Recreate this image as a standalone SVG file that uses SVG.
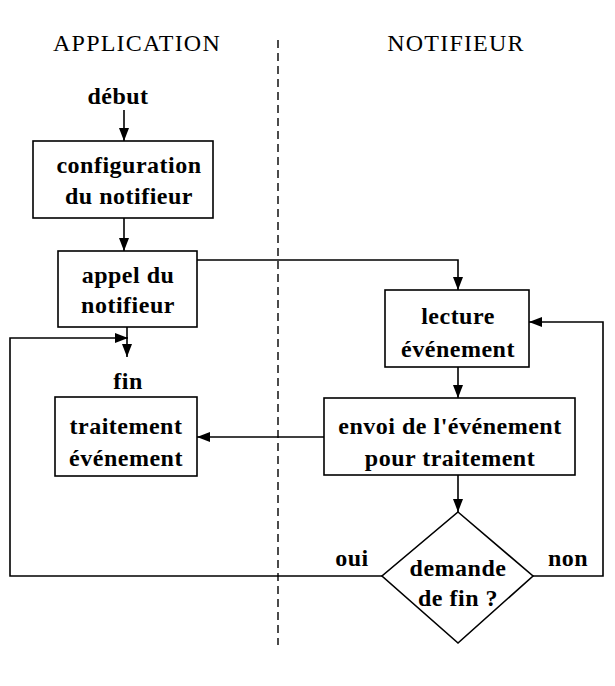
<svg xmlns="http://www.w3.org/2000/svg" width="615" height="686" viewBox="0 0 615 686">
<style>
.t{font-family:"Liberation Serif","Times New Roman",serif;font-size:24px;font-weight:bold;letter-spacing:0.5px;text-anchor:middle;fill:#000}
.h{font-family:"Liberation Serif","Times New Roman",serif;font-size:24px;letter-spacing:1.2px;text-anchor:middle;fill:#000}
.b{fill:#fff;stroke:#000;stroke-width:1.6}
.c{fill:none;stroke:#000;stroke-width:1.6}
</style>
<defs>
<marker id="a" markerUnits="userSpaceOnUse" markerWidth="14" markerHeight="12" refX="13" refY="5" orient="auto">
<path d="M0,0 L13,5 L0,10 Z" fill="#000"/>
</marker>
</defs>
<rect width="615" height="686" fill="#fff"/>
<text class="h" x="137" y="51">APPLICATION</text>
<text class="h" x="456" y="51">NOTIFIEUR</text>
<line x1="278" y1="40" x2="278" y2="645" stroke="#000" stroke-width="1.4" stroke-dasharray="8 5"/>
<g id="connectors">
<path class="c" d="M124,110 V141" marker-end="url(#a)"/>
<path class="c" d="M124,218 V251" marker-end="url(#a)"/>
<path class="c" d="M197,260 H458 V290" marker-end="url(#a)"/>
<path class="c" d="M127,327 V357" marker-end="url(#a)"/>
<path class="c" d="M382,576 H10 V338 H128" marker-end="url(#a)"/>
<path class="c" d="M458,367 V398" marker-end="url(#a)"/>
<path class="c" d="M324,437 H197" marker-end="url(#a)"/>
<path class="c" d="M458,475 V512" marker-end="url(#a)"/>
<path class="c" d="M533,576 H603 V322 H529" marker-end="url(#a)"/>
</g>
<g id="debut"><text class="t" x="118" y="104">début</text></g>
<g id="fin"><text class="t" x="128" y="389">fin</text></g>
<g id="config">
<rect class="b" x="33" y="141" width="180" height="77"/>
<text class="t" x="129" y="173">configuration</text>
<text class="t" x="129" y="204">du notifieur</text>
</g>
<g id="appel">
<rect class="b" x="58" y="251" width="139" height="76"/>
<text class="t" x="128" y="283">appel du</text>
<text class="t" x="128" y="313">notifieur</text>
</g>
<g id="traitement">
<rect class="b" x="55" y="397" width="142" height="79"/>
<text class="t" x="126" y="434">traitement</text>
<text class="t" x="126" y="466">événement</text>
</g>
<g id="lecture">
<rect class="b" x="385" y="290" width="144" height="77"/>
<text class="t" x="458" y="324">lecture</text>
<text class="t" x="458" y="357">événement</text>
</g>
<g id="envoi">
<rect class="b" x="324" y="398" width="251" height="77"/>
<text class="t" x="450" y="434">envoi de l'événement</text>
<text class="t" x="450" y="466">pour traitement</text>
</g>
<g id="demande">
<path class="b" d="M458,512 L533,576 L458,643 L382,576 Z"/>
<text class="t" x="458" y="576">demande</text>
<text class="t" x="458" y="606">de fin ?</text>
</g>
<g id="labels">
<text class="t" x="352" y="566">oui</text>
<text class="t" x="568" y="566">non</text>
</g>
</svg>
